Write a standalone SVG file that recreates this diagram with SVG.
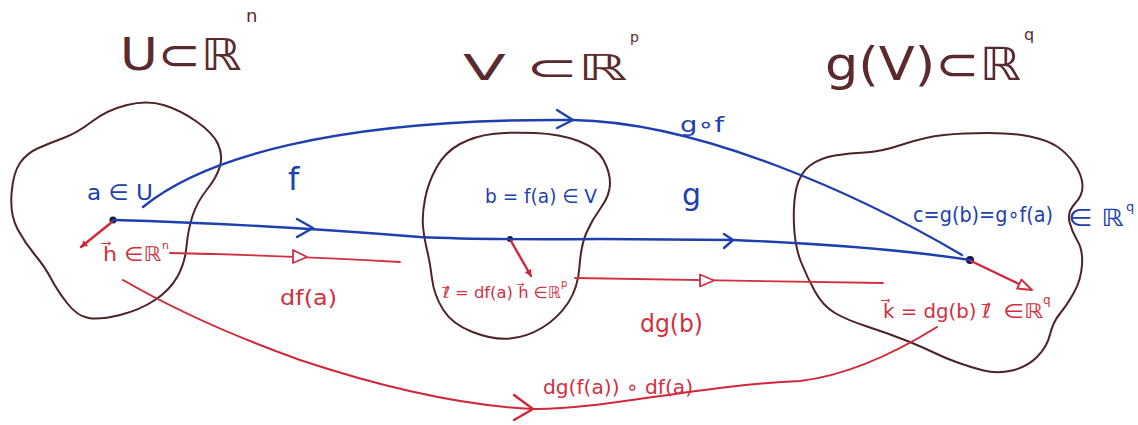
<svg xmlns="http://www.w3.org/2000/svg" width="1138" height="425" viewBox="0 0 1138 425">
<style>
.blob{fill:none;stroke:#4d2326;stroke-width:2;stroke-linejoin:round}
.title{font-family:"DejaVu Sans",sans-serif;fill:#5a2a2e}
.bl{fill:none;stroke:#1e3fae;stroke-width:2.4;stroke-linecap:round;stroke-linejoin:round}
.rd{fill:none;stroke:#d2303f;stroke-width:1.8;stroke-linecap:round;stroke-linejoin:round}
.rdk{fill:none;stroke:#d0283a;stroke-width:2.4;stroke-linecap:round;stroke-linejoin:round}
.tri{fill:#fff;stroke:#d2303f;stroke-width:1.8;stroke-linejoin:round}
.bt{font-family:"DejaVu Sans",sans-serif;fill:#1e3fae}
.rt{font-family:"DejaVu Sans",sans-serif;fill:#d2303f}
.dot{fill:#0f1a4a}
</style>
<defs>
<marker id="fh" viewBox="0 0 10 10" refX="9" refY="5" markerWidth="7" markerHeight="7" orient="auto" markerUnits="userSpaceOnUse">
<path d="M0,0 L10,5 L0,10 Z" fill="#d0283a"/>
</marker>
</defs>

<g id="node-U">
<path class="blob" d="M163.5,105 Q180,110 196.5,121.5 Q213,133 218,144 Q223,155 220,166 Q217,177 207,189.5 Q197,202 192.5,216 Q188,230 186.5,246.5 Q185,263 177.5,276.5 Q170,290 155,300 Q140,310 120,315 Q100,320 88.5,318 Q77,316 67,303 Q57,290 51,278.5 Q45,267 35,255 Q25,243 17.5,229 Q10,215 11.5,194 Q13,173 20,163 Q27,153 38.5,148 Q50,143 63.5,138 Q77,133 92,121.5 Q107,110 127,105 Q147,100 163.5,105 Z"/>
<text class="title" x="120" y="70" font-size="44" textLength="122" lengthAdjust="spacingAndGlyphs">U⊂ℝ</text>
<text class="title" x="246" y="22" font-size="18">n</text>
<text class="bt" x="87" y="200" font-size="22" textLength="66" lengthAdjust="spacingAndGlyphs">a ∈ U</text>
<circle class="dot" cx="113" cy="220" r="3.5"/>
<text class="rt" x="103" y="261" font-size="20" textLength="58" lengthAdjust="spacingAndGlyphs">h⃗ ∈ℝ</text>
<text class="rt" x="162" y="249" font-size="11">n</text>
</g>

<g id="node-V">
<path class="blob" d="M535,133 Q560,134 578.5,141 Q597,148 603.5,160 Q610,172 610,183.5 Q610,195 601,207.5 Q592,220 586.5,232.5 Q581,245 579.5,266.5 Q578,288 568,303 Q558,318 542.5,327.5 Q527,337 510,338.5 Q493,340 472.5,332 Q452,324 443,309.5 Q434,295 432,278.5 Q430,262 427,250 Q424,238 423,226.5 Q422,215 425,199 Q428,183 436.5,167.5 Q445,152 460,144 Q475,136 492.5,134 Q510,132 535,133 Z"/>
<text class="title" x="463" y="80" font-size="36" textLength="165" lengthAdjust="spacingAndGlyphs">V ⊂ℝ</text>
<text class="title" x="630" y="42" font-size="14">p</text>
<text class="bt" x="485" y="203" font-size="20" textLength="112" lengthAdjust="spacingAndGlyphs">b = f(a) ∈ V</text>
<circle class="dot" cx="510" cy="239" r="3"/>
<text class="rt" x="443" y="298" font-size="16" textLength="118" lengthAdjust="spacingAndGlyphs">ℓ⃗ = df(a) h⃗ ∈ℝ</text>
<text class="rt" x="561" y="287" font-size="10">p</text>
</g>

<g id="node-gV">
<path class="blob" d="M988,133 Q1013,133 1030,136.5 Q1047,140 1057,146.5 Q1067,153 1074.5,164 Q1082,175 1082.5,185 Q1083,195 1075,203.5 Q1067,212 1069.5,222 Q1072,232 1077.5,241 Q1083,250 1082,265 Q1081,280 1074,292.5 Q1067,305 1060,313.5 Q1053,322 1050,334.5 Q1047,347 1037,357 Q1027,367 1012,370.5 Q997,374 983.5,370.5 Q970,367 957.5,362.5 Q945,358 932.5,352 Q920,346 903.5,339.5 Q887,333 867,326.5 Q847,320 835,313 Q823,306 815,291.5 Q807,277 801,262 Q795,247 794,225 Q793,203 796.5,188 Q800,173 810,165.5 Q820,158 835,155.5 Q850,153 865,152.5 Q880,152 902.5,144.5 Q925,137 944,135 Q963,133 988,133 Z"/>
<text class="title" x="825" y="80" font-size="46" textLength="196" lengthAdjust="spacingAndGlyphs">g(V)⊂ℝ</text>
<text class="title" x="1024" y="40" font-size="16">q</text>
<text class="bt" x="913" y="222" font-size="22" textLength="140" lengthAdjust="spacingAndGlyphs">c=g(b)=g∘f(a)</text>
<text class="bt" x="1068" y="226" font-size="24" textLength="56" lengthAdjust="spacingAndGlyphs">∈ ℝ</text>
<text class="bt" x="1126" y="211" font-size="13">q</text>
<circle class="dot" cx="970" cy="260" r="4"/>
<text class="rt" x="883" y="318" font-size="20" textLength="108" lengthAdjust="spacingAndGlyphs">k⃗ = dg(b) ℓ⃗</text>
<text class="rt" x="1003" y="318" font-size="20" textLength="40" lengthAdjust="spacingAndGlyphs">∈ℝ</text>
<text class="rt" x="1043" y="304" font-size="12">q</text>
</g>

<g id="connectors">
<path class="bl" d="M113,220 Q260,224 420,237 Q480,240 600,239 L733,240 Q880,246 970,260"/>
<path class="bl" d="M297,219 L313,228 L297,237"/>
<path class="bl" d="M724,234 L733,240 L724,248"/>
<text class="bt" x="288" y="190" font-size="32">f</text>
<text class="bt" x="682" y="205" font-size="30">g</text>
<path class="bl" d="M143,207 C200,160 330,118 573,120 C700,122 860,195 962,255"/>
<path class="bl" d="M557,110 L573,120 L557,128"/>
<text class="bt" x="680" y="132" font-size="22" textLength="44" lengthAdjust="spacingAndGlyphs">g∘f</text>
<path class="rdk" d="M112,222 L81,247" marker-end="url(#fh)"/>
<path class="rd" d="M170,253 Q300,256 400,262"/>
<path class="tri" d="M293,250 L307,257 L293,263 Z"/>
<text class="rt" x="280" y="305" font-size="22" textLength="57" lengthAdjust="spacingAndGlyphs">df(a)</text>
<path class="rdk" d="M511,241 L531,276" marker-end="url(#fh)"/>
<path class="rd" d="M575,278 Q730,280 883,283"/>
<path class="tri" d="M700,274.5 L714,280.5 L700,286.5 Z"/>
<text class="rt" x="640" y="332" font-size="24" textLength="63" lengthAdjust="spacingAndGlyphs">dg(b)</text>
<path class="rdk" d="M971,261 L1019,284"/>
<path class="tri" style="stroke-width:2" d="M1032,290 L1017.2,288.6 L1021.4,279.6 Z"/>
<path class="rdk" style="stroke-width:2" d="M123,280 C175,310 230,335 300,360 C360,380 450,405 533,409 C600,410 700,385 800,381 C850,375 900,350 937,327"/>
<path class="rdk" d="M514,395 L533,409 L514,420"/>
<text class="rt" x="543" y="394" font-size="20" textLength="150" lengthAdjust="spacingAndGlyphs">dg(f(a)) ∘ df(a)</text>
</g>
</svg>
